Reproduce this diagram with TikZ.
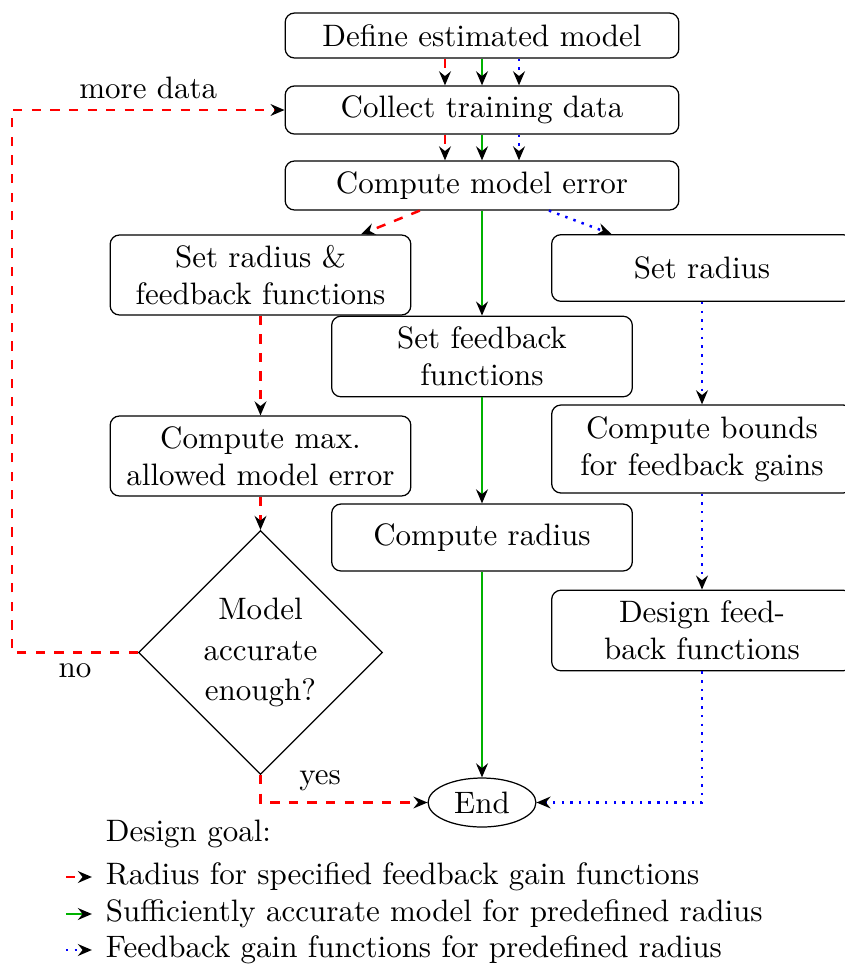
\documentclass[tikz,border=0pt]{standalone}
\usetikzlibrary{shapes.geometric,arrows.meta}
\begin{document}
\begin{tikzpicture}[x=0.3226pt,y=-0.3226pt,
  box/.style={draw,rounded corners=3pt,align=center,inner sep=2pt,line width=0.4pt},
  wide/.style={box,minimum width=127pt},
  col/.style={box,minimum width=97pt},
  tip/.style={-{Stealth[length=4.5pt,width=3.8pt,inset=1.5pt,black]}},
  lbl/.style={text=black},
  rd/.style={tip,red,dashed,thick},
  gr/.style={tip,green!70!black,thick},
  bl/.style={tip,blue,dotted,thick}]
\clip (0,0) rectangle (845,966);
% nodes
\node[wide,minimum height=14.5pt] (def) at (482,35.5) {Define estimated model};
\node[wide,minimum height=15.5pt] (col) at (482,110) {Collect training data};
\node[wide,minimum height=15.8pt] (err) at (482,185.5) {Compute model error};
\node[col,minimum height=25.8pt] (srf) at (260.5,275) {Set radius \&\\feedback functions};
\node[col,minimum height=21.5pt] (sr) at (702,268) {Set radius};
\node[col,minimum height=26pt] (sf) at (482,356.5) {Set feedback\\functions};
\node[col,minimum height=25.8pt] (cme) at (260.5,456) {Compute max.\\allowed model error};
\node[col,minimum height=21.6pt] (cr) at (482,537.5) {Compute radius};
\node[col,minimum height=28.4pt] (cb) at (702,449) {Compute bounds\\for feedback gains};
\node[col,minimum height=26pt] (df) at (702,630.5) {Design feed-\\back functions};
\node[diamond,draw,aspect=1,minimum width=78.7pt,minimum height=78.7pt,inner sep=0pt,align=center,line width=0.4pt] (dm) at (260.5,652.5) {Model\\[1pt]accurate\\[1pt]enough?};
\node[ellipse,draw,minimum width=34.8pt,minimum height=15.8pt,inner sep=0pt,line width=0.4pt] (end) at (482,802.5) {End};
% top arrows
\draw[rd] ([xshift=-11.94pt]def.south) -- ([xshift=-11.94pt]col.north);
\draw[gr] (def.south) -- (col.north);
\draw[bl] ([xshift=11.94pt]def.south) -- ([xshift=11.94pt]col.north);
\draw[rd] ([xshift=-11.94pt]col.south) -- ([xshift=-11.94pt]err.north);
\draw[gr] (col.south) -- (err.north);
\draw[bl] ([xshift=11.94pt]col.south) -- ([xshift=11.94pt]err.north);
% branches
\draw[rd] (err) -- (srf);
\draw[gr] (err) -- (sf);
\draw[bl] (err) -- (sr);
\draw[rd] (srf) -- (cme);
\draw[rd] (cme) -- (dm);
\coordinate (cl) at (12,652.5);
\draw[rd] (dm.west) -- node[below,lbl]{no} (cl) |- node[pos=0.75,above,lbl]{more data} (col.west);
\draw[rd] (dm.south) |- (end.west);
\node (yes) at (320,781) {yes};
\draw[gr] (sf) -- (cr);
\draw[gr] (cr) -- (end);
\draw[bl] (sr) -- (cb);
\draw[bl] (cb) -- (df);
\draw[bl] (df) |- (end.east);
% legend
\node[anchor=west] (lg0) at (95,834) {Design goal:};
\node[anchor=west] (lg1) at (95,877) {Radius for specified feedback gain functions};
\node[anchor=west] (lg2) at (95,914) {Sufficiently accurate model for predefined radius};
\node[anchor=west] (lg3) at (95,950) {Feedback gain functions for predefined radius};
\coordinate (l1) at (66,877);
\coordinate (l2) at (66,914);
\coordinate (l3) at (66,950);
\draw[rd,shorten >=1pt] (l1) -- (lg1.west);
\draw[gr,shorten >=1pt] (l2) -- (lg2.west);
\draw[bl,shorten >=1pt] (l3) -- (lg3.west);
\end{tikzpicture}
\end{document}
